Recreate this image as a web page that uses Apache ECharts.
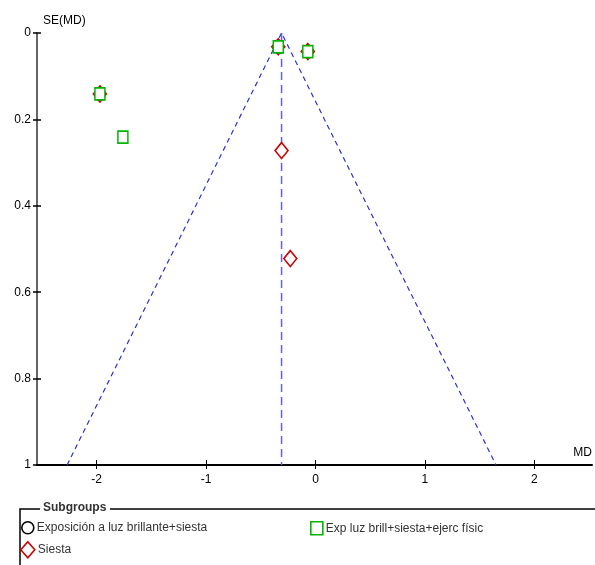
<!DOCTYPE html>
<html>
<head>
<meta charset="utf-8">
<script src="https://cdn.jsdelivr.net/npm/echarts@6/dist/echarts.min.js"></script>
<style>
  html, body { margin: 0; padding: 0; background: #fff; }
  #funnel { width: 595px; height: 565px; }
</style>
</head>
<body>
<div id="funnel"></div>
<script>
// tick labels
var xTicks = [-2, -1, 0, 1, 2];
var yTicks = [0, 0.2, 0.4, 0.6, 0.8, 1];

// pooled MD and 95% limits at SE = 1
var pooledMD = -0.31;
var limitAtSE1 = 1.96;

// studies per subgroup: [MD, SE(MD)]
var groupNames = ['Exposición a luz brillante+siesta', 'Exp luz brill+siesta+ejerc físic', 'Siesta'];
var luzSiesta = [[-1.97, 0.141], [-0.34, 0.032], [-0.07, 0.043]];
var luzEjercicio = [[-1.97, 0.141], [-1.76, 0.241], [-0.34, 0.032], [-0.07, 0.043]];
var siesta = [[-1.97, 0.141], [-0.34, 0.032], [-0.07, 0.043], [-0.31, 0.272], [-0.23, 0.522]];

var font = '"Liberation Sans", Arial, sans-serif';
var chart = echarts.init(document.getElementById('funnel'));

var funnelEdges = [[pooledMD - limitAtSE1, 1], [pooledMD, 0], [pooledMD + limitAtSE1, 1]];
var pooledLine = [[pooledMD, 0], [pooledMD, 1]];

function legendFor(name, icon, left, top, border) {
  return {
    data: [{ name: name, icon: icon }],
    left: left,
    top: top,
    orient: 'horizontal',
    itemWidth: icon === 'diamond' ? 14 : 12,
    itemHeight: icon === 'diamond' ? 16 : 13,
    itemGap: 4,
    selectedMode: false,
    padding: 0,
    itemStyle: { color: '#fff', borderColor: border, borderWidth: 1.6 },
    textStyle: { fontFamily: font, fontSize: 12, color: '#333', padding: [0, 0, 0, -2] }
  };
}

var option = {
  animation: false,
  backgroundColor: '#fff',
  grid: { left: 37, right: 0, top: 33, bottom: 100, containLabel: false },
  xAxis: [
    {
      type: 'value',
      min: -2.545,
      max: 2.527,
      name: 'MD',
      nameLocation: 'end',
      nameGap: 0,
      nameTextStyle: { fontFamily: font, fontSize: 12, color: '#000', align: 'right', verticalAlign: 'bottom', padding: [0, 0, 6, 0] },
      axisLine: { onZero: false, lineStyle: { color: '#000', width: 2 } },
      axisTick: { customValues: xTicks, length: 4, lineStyle: { color: '#000', width: 1 } },
      axisLabel: { customValues: xTicks, fontFamily: font, fontSize: 12, color: '#000', margin: 9 },
      splitLine: { show: false }
    },
    {
      type: 'value',
      min: -2.545,
      max: 2.527,
      position: 'bottom',
      axisLine: { show: false, onZero: false },
      axisTick: { customValues: xTicks, inside: true, length: 5, lineStyle: { color: '#000', width: 1 } },
      axisLabel: { show: false },
      splitLine: { show: false }
    }
  ],
  yAxis: [
    {
      type: 'value',
      inverse: true,
      min: 0,
      max: 1,
      interval: 0.2,
      name: 'SE(MD)',
      nameLocation: 'start',
      nameGap: 6,
      nameTextStyle: { fontFamily: font, fontSize: 12, color: '#000', align: 'left', padding: [0, 0, 0, 6] },
      axisLine: { onZero: false, lineStyle: { color: '#333', width: 1.5 } },
      axisTick: { length: 4, lineStyle: { color: '#000', width: 1.5 } },
      axisLabel: { fontFamily: font, fontSize: 12, color: '#000', margin: 6 },
      splitLine: { show: false }
    },
    {
      type: 'value',
      inverse: true,
      min: 0,
      max: 1,
      interval: 0.2,
      position: 'left',
      axisLine: { show: false, onZero: false },
      axisTick: { inside: true, length: 4, lineStyle: { color: '#000', width: 1.5 } },
      axisLabel: { show: false },
      splitLine: { show: false }
    }
  ],
  legend: [
    legendFor(groupNames[0], 'circle', 21, 521, '#000'),
    legendFor(groupNames[1], 'rect', 310, 521, '#00b400'),
    legendFor(groupNames[2], 'diamond', 20, 541, '#cc0000')
  ],
  graphic: [
    {
      type: 'polyline',
      shape: { points: [[40, 509], [20, 509], [20, 565]] },
      style: { stroke: '#000', lineWidth: 1.5, fill: null }
    },
    {
      type: 'line',
      shape: { x1: 110, y1: 509, x2: 595, y2: 509 },
      style: { stroke: '#000', lineWidth: 1.5 }
    },
    {
      type: 'text',
      left: 43,
      top: 502,
      style: { text: 'Subgroups', font: 'bold 12px ' + font, fill: '#333' }
    }
  ],
  series: [
    {
      type: 'line',
      data: funnelEdges,
      symbol: 'none',
      silent: true,
      lineStyle: { color: '#3030d0', width: 1.2, type: [5, 4] },
      z: 1
    },
    {
      type: 'line',
      data: pooledLine,
      symbol: 'none',
      silent: true,
      lineStyle: { color: '#6060e0', width: 1.5, type: [8, 5] },
      z: 1
    },
    {
      name: groupNames[0],
      type: 'scatter',
      data: luzSiesta,
      symbol: 'circle',
      symbolSize: [10, 12],
      itemStyle: { color: '#fff', borderColor: '#000', borderWidth: 1.6, opacity: 1 },
      z: 2
    },
    {
      name: groupNames[2],
      type: 'scatter',
      data: siesta,
      symbol: 'diamond',
      symbolSize: [13, 16],
      itemStyle: { color: '#fff', borderColor: '#cc0000', borderWidth: 1.6, opacity: 1 },
      z: 3
    },
    {
      name: groupNames[1],
      type: 'scatter',
      data: luzEjercicio,
      symbol: 'rect',
      symbolSize: [10, 12],
      itemStyle: { color: '#fff', borderColor: '#00b400', borderWidth: 1.6, opacity: 1 },
      z: 4
    }
  ]
};

chart.setOption(option);

window.addEventListener('resize', function() {
  chart.resize();
});
</script>
</body>
</html>
